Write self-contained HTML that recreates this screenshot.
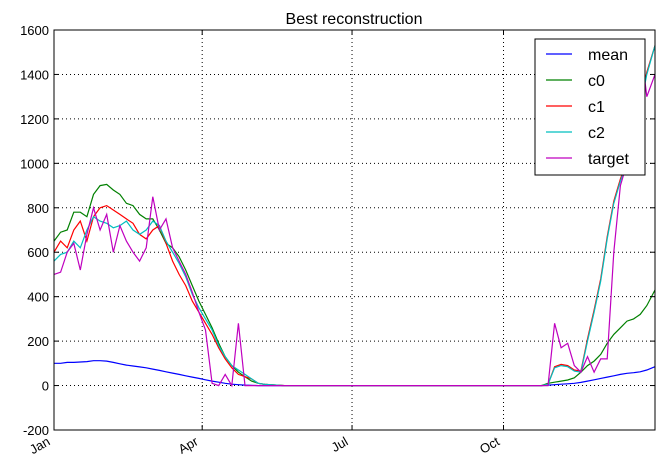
<!DOCTYPE html>
<html><head><meta charset="utf-8"><style>
body{margin:0;background:#fff;}
svg{font-family:"Liberation Sans",sans-serif;}
</style></head><body>
<svg id="chart" width="663" height="470">
<rect x="0" y="0" width="663" height="470" fill="#fff"/>
<text x="354" y="24" text-anchor="middle" font-size="16">Best reconstruction</text>
<g id="grid"></g><g id="series"></g><g id="axes"></g>
<rect x="54" y="30" width="601" height="400" fill="none" stroke="#000" stroke-width="1"/>
<g id="legend"></g>
</svg>
<script>
const days=[0,4,8,12,16,20,24,28,32,36,40,44,48,52,56,60,64,68,72,76,80,84,88,92,96,100,104,108,112,116,120,124,128,140,200,270,292,296,300,304,308,312,316,320,324,328,332,336,340,344,348,352,356,360,365];
const meanVals=[100,100,104,104,106,108,112,112,110,104,98,92,88,84,80,74,68,62,56,50,44,38,32,26,20,15,10,6,4,2,1,0,0,0,0,0,0,0,2,4,6,8,10,14,20,26,32,38,44,50,55,58,62,70,85];
const c0Vals=[650,690,700,780,780,760,860,900,905,880,860,820,810,770,750,750,700,640,620,580,520,450,380,320,260,190,130,90,60,40,20,10,5,0,0,0,0,0,10,15,20,25,35,60,90,110,140,190,230,260,290,300,320,360,430];
const c1Vals=[600,650,620,700,740,650,760,800,810,790,770,750,730,680,660,700,720,640,560,500,450,380,330,280,230,170,120,80,50,40,30,10,5,0,0,0,0,0,5,85,95,90,70,65,210,340,480,670,830,930,1010,1110,1260,1410,1530];
const c2Vals=[560,590,600,650,620,700,760,740,730,710,720,740,700,680,700,740,720,650,600,550,490,410,350,300,250,180,130,90,70,50,30,10,5,0,0,0,0,0,5,80,90,85,65,60,200,330,470,660,820,920,1000,1100,1250,1400,1530];
const targetVals=[500,510,600,640,520,680,800,700,770,600,720,650,600,560,620,850,700,750,620,560,500,420,330,250,10,0,50,0,280,0,0,0,0,0,0,0,0,0,0,280,170,190,90,60,130,60,120,120,600,900,1000,1100,1550,1300,1400];
const yTicks=[-200,0,200,400,600,800,1000,1200,1400,1600];
const xTickDays=[0,90,181,273];
const xTickLabels=["Jan","Apr","Jul","Oct"];
const seriesNames=["mean","c0","c1","c2","target"];
const seriesColors=["#0000ff","#008000","#ff0000","#00bfbf","#bf00bf"];
const seriesData=[meanVals,c0Vals,c1Vals,c2Vals,targetVals];
const X0=54,X1=655,Y0=30,Y1=430;
const xs=d=>X0+(X1-X0)*d/365;
const ys=v=>Y1-(Y1-Y0)*(v+200)/1800;
const NS="http://www.w3.org/2000/svg";
function mk(t,a,p){const e=document.createElementNS(NS,t);for(const k in a)e.setAttribute(k,a[k]);p.appendChild(e);return e;}
const grid=document.getElementById('grid'),axes=document.getElementById('axes'),ser=document.getElementById('series'),leg=document.getElementById('legend');
yTicks.forEach(v=>{const y=ys(v);
 const g=mk('line',{x1:X0,x2:X1,y1:y,y2:y,stroke:'#000','stroke-dasharray':'1,3','stroke-width':1},grid);
 
 
 mk('line',{x1:X0,x2:X0+5,y1:y,y2:y,stroke:'#000'},axes);
 mk('line',{x1:X1,x2:X1-5,y1:y,y2:y,stroke:'#000'},axes);
 const t=mk('text',{x:X0-5,y:y+5,'text-anchor':'end','font-size':13},axes);t.textContent=v;
 
 
});
xTickDays.forEach((d,i)=>{const x=xs(d);
 const g=mk('line',{x1:x,x2:x,y1:Y0,y2:Y1,stroke:'#000','stroke-dasharray':'1,3'},grid);
 
 
 mk('line',{x1:x,x2:x,y1:Y1,y2:Y1-5,stroke:'#000'},axes);
 mk('line',{x1:x,x2:x,y1:Y0,y2:Y0+5,stroke:'#000'},axes);
 const t=mk('text',{x:x-3,y:Y1+14,'text-anchor':'end','font-size':13,transform:`rotate(-30 ${x-3} ${Y1+14})`},axes);t.textContent=xTickLabels[i];
 
 
});
seriesData.forEach((vals,i)=>{
 const pts=days.map((d,j)=>xs(d).toFixed(1)+','+ys(vals[j]).toFixed(1)).join(' ');
 const p=mk('polyline',{points:pts,fill:'none',stroke:seriesColors[i],'stroke-width':1.2},ser);
 
 
});
mk('rect',{x:535,y:39,width:110,height:136,fill:'#fff',stroke:'#000'},leg);
seriesNames.forEach((n,i)=>{const y=54+i*26;
 mk('line',{x1:546,x2:572,y1:y,y2:y,stroke:seriesColors[i],'stroke-width':1.2},leg);
 const t=mk('text',{x:588,y:y+6,'font-size':16},leg);t.textContent=n;
 
 
});
</script>
</body></html>
